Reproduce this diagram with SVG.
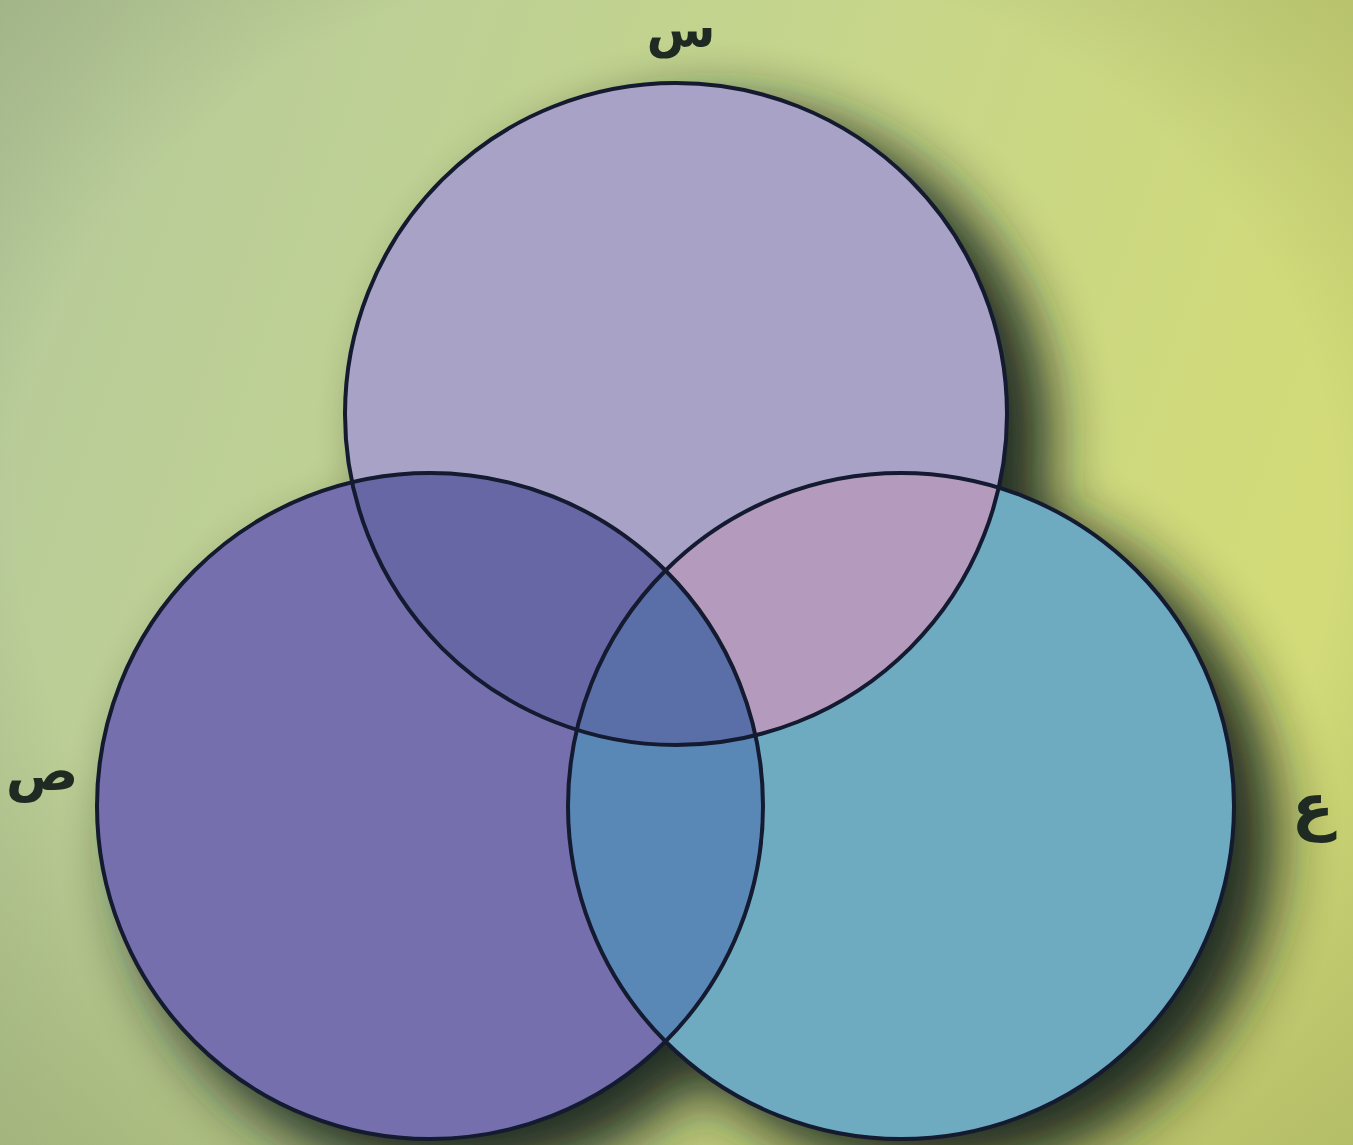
<svg xmlns="http://www.w3.org/2000/svg" width="1353" height="1145" viewBox="0 0 1353 1145">
<defs>
<style>
.lbl{font-family:"DejaVu Sans","Noto Sans",sans-serif;font-weight:bold;fill:#1f2a22;text-anchor:middle}
.edge{fill:none;stroke:#141a30;stroke-width:4}
</style>
<linearGradient id="bg" x1="0" y1="0" x2="1" y2="0.3">
<stop offset="0" stop-color="#b6ca9c"/>
<stop offset="0.5" stop-color="#c3d48e"/>
<stop offset="1" stop-color="#d2db78"/>
</linearGradient>
<radialGradient id="vig" cx="0.5" cy="0.45" r="0.75">
<stop offset="0.65" stop-color="#000" stop-opacity="0"/>
<stop offset="1" stop-color="#3a4a20" stop-opacity="0.2"/>
</radialGradient>
<filter id="blur" x="-20%" y="-20%" width="140%" height="140%"><feGaussianBlur stdDeviation="30"/></filter>
<clipPath id="cT"><circle cx="676" cy="414" r="331"/></clipPath>
<clipPath id="cL"><circle cx="430" cy="806" r="333"/></clipPath>
<clipPath id="cR"><circle cx="901" cy="806" r="333"/></clipPath>
</defs>
<rect width="1353" height="1145" fill="url(#bg)"/>
<rect width="1353" height="1145" fill="url(#vig)"/>
<g id="shadow" filter="url(#blur)" fill="#16221a" opacity="0.95">
<circle cx="716" cy="440" r="335"/>
<circle cx="462" cy="842" r="337"/>
<circle cx="940" cy="836" r="337"/>
</g>
<g id="circle-s"><circle cx="676" cy="414" r="331" fill="#a9a2c7"/></g>
<g id="circle-sad"><circle cx="430" cy="806" r="333" fill="#7570ad"/></g>
<g id="circle-ain"><circle cx="901" cy="806" r="333" fill="#6eaac0"/></g>
<g id="overlaps">
<g clip-path="url(#cT)"><circle cx="430" cy="806" r="333" fill="#6867a6"/><circle cx="901" cy="806" r="333" fill="#b49bbd"/></g>
<g clip-path="url(#cL)"><circle cx="901" cy="806" r="333" fill="#5a88b6"/></g>
<g clip-path="url(#cL)"><g clip-path="url(#cR)"><circle cx="676" cy="414" r="331" fill="#5a6ea7"/></g></g>
</g>
<g id="connectors">
<circle class="edge" cx="676" cy="414" r="331"/>
<circle class="edge" cx="430" cy="806" r="333"/>
<circle class="edge" cx="901" cy="806" r="333"/>
</g>
<g id="labels">
<text class="lbl" x="681" y="47" font-size="50">س</text>
<text class="lbl" x="42" y="790" font-size="54">ص</text>
<text class="lbl" x="1313" y="828" font-size="62">ع</text>
</g>
</svg>
